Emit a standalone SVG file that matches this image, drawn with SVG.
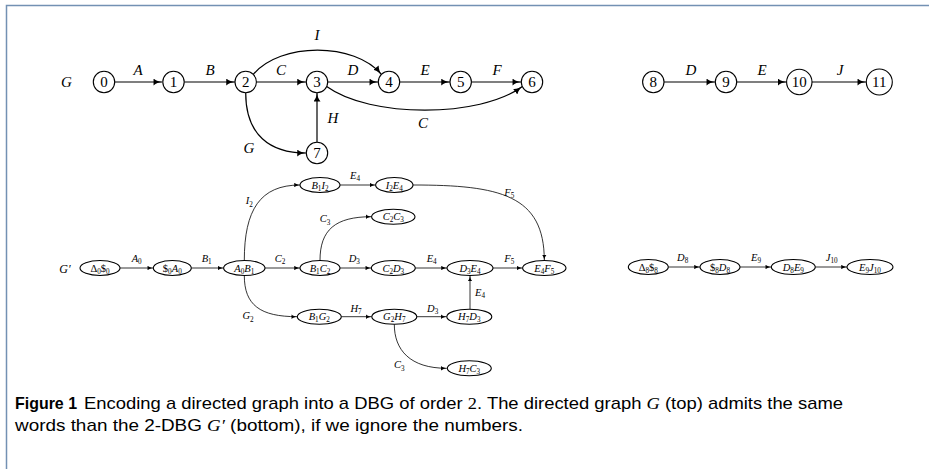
<svg xmlns="http://www.w3.org/2000/svg" width="929" height="469" viewBox="0 0 929 469">
<style>
.frame{stroke:#7391b3;stroke-width:1.5;fill:none}
.n{fill:#fff;stroke:#000;stroke-width:1.1}
.e{fill:none;stroke:#000;stroke-width:1.2}
.eb{fill:none;stroke:#000;stroke-width:0.8}
.big{font-family:"Liberation Serif",serif;font-size:15px;fill:#000}
.sm{font-family:"Liberation Serif",serif;font-size:10.5px;fill:#000}
.it{font-style:italic}
.sub{font-size:7.2px;font-style:normal}
.mid{text-anchor:middle}
.cap{font-family:"Liberation Sans",Arial,sans-serif;font-size:17px;fill:#000}
.m{font-family:"Liberation Serif",serif}
</style>
<defs>
<marker id="ah" viewBox="0 0 10 8" refX="10" refY="4" markerWidth="9" markerHeight="7" markerUnits="userSpaceOnUse" orient="auto">
<path d="M0,0 C3,2.5 6,3.5 10,4 C6,4.5 3,5.5 0,8 Z" fill="#000"/>
</marker>
<marker id="as" viewBox="0 0 10 8" refX="10" refY="4" markerWidth="6" markerHeight="4.6" markerUnits="userSpaceOnUse" orient="auto">
<path d="M0,0 C3,2.5 6,3.5 10,4 C6,4.5 3,5.5 0,8 Z" fill="#000"/>
</marker>
</defs>
<rect width="929" height="469" fill="#fff"/>
<path class="frame" d="M6.5,469 V5.5 H929"/>

<!-- Top graph G -->
<text class="big it mid" x="66.5" y="87">G</text>
<g id="connectors-top">
<path class="e" d="M114.7,82 H162.3" marker-end="url(#ah)"/>
<path class="e" d="M184.2,82 H235" marker-end="url(#ah)"/>
<path class="e" d="M256.4,82 H306" marker-end="url(#ah)"/>
<path class="e" d="M327.7,82 H378.3" marker-end="url(#ah)"/>
<path class="e" d="M399.7,82 H450" marker-end="url(#ah)"/>
<path class="e" d="M471.4,82 H521.3" marker-end="url(#ah)"/>
<path class="e" d="M317,142.3 V92.7" marker-end="url(#ah)"/>
<path class="e" d="M253.2,74.5 C280,42 355,42 381.5,74.5" marker-end="url(#ah)"/>
<path class="e" d="M326.7,86.5 C370,118 480,118 522.3,86.5" marker-end="url(#ah)"/>
<path class="e" d="M245.7,92.7 C245.7,135 270,153 306,153" marker-end="url(#ah)"/>
<path class="e" d="M664,82 H715.3" marker-end="url(#ah)"/>
<path class="e" d="M736.7,82 H786.6" marker-end="url(#ah)"/>
<path class="e" d="M812,82 H866.3" marker-end="url(#ah)"/>
<text class="big it mid" x="138" y="75">A</text>
<text class="big it mid" x="210" y="75">B</text>
<text class="big it mid" x="281" y="75">C</text>
<text class="big it mid" x="317" y="40">I</text>
<text class="big it mid" x="353" y="75">D</text>
<text class="big it mid" x="425" y="75">E</text>
<text class="big it mid" x="497" y="75">F</text>
<text class="big it mid" x="333" y="123">H</text>
<text class="big it mid" x="249" y="153">G</text>
<text class="big it mid" x="423" y="128">C</text>
<text class="big it mid" x="691" y="75">D</text>
<text class="big it mid" x="762" y="75">E</text>
<text class="big it mid" x="840" y="75">J</text>
</g>
<g id="n0"><circle class="n" cx="104" cy="82" r="10.7"/><text class="big mid" x="104" y="87">0</text></g>
<g id="n1"><circle class="n" cx="173.5" cy="82" r="10.7"/><text class="big mid" x="173.5" y="87">1</text></g>
<g id="n2"><circle class="n" cx="245.7" cy="82" r="10.7"/><text class="big mid" x="245.7" y="87">2</text></g>
<g id="n3"><circle class="n" cx="317" cy="82" r="10.7"/><text class="big mid" x="317" y="87">3</text></g>
<g id="n4"><circle class="n" cx="389" cy="82" r="10.7"/><text class="big mid" x="389" y="87">4</text></g>
<g id="n5"><circle class="n" cx="460.7" cy="82" r="10.7"/><text class="big mid" x="460.7" y="87">5</text></g>
<g id="n6"><circle class="n" cx="532" cy="82" r="10.7"/><text class="big mid" x="532" y="87">6</text></g>
<g id="n7"><circle class="n" cx="317" cy="153" r="10.7"/><text class="big mid" x="317" y="158">7</text></g>
<g id="n8"><circle class="n" cx="653.3" cy="82" r="10.7"/><text class="big mid" x="653.3" y="87">8</text></g>
<g id="n9"><circle class="n" cx="726" cy="82" r="10.7"/><text class="big mid" x="726" y="87">9</text></g>
<g id="n10"><circle class="n" cx="799.3" cy="82" r="12.7"/><text class="big mid" x="799.3" y="87">10</text></g>
<g id="n11"><circle class="n" cx="879.3" cy="82" r="13"/><text class="big mid" x="879.3" y="87">11</text></g>

<!-- Bottom graph G' -->
<text class="big it mid" x="65" y="273" style="font-size:12px">G′</text>
<g id="connectors-bottom">
<path class="eb" d="M120,268 H153.3" marker-end="url(#as)"/>
<path class="eb" d="M191.3,268 H223.6" marker-end="url(#as)"/>
<path class="eb" d="M265,268 H300" marker-end="url(#as)"/>
<path class="eb" d="M340,268 H371.3" marker-end="url(#as)"/>
<path class="eb" d="M415.3,268 H447" marker-end="url(#as)"/>
<path class="eb" d="M493,268 H522.6" marker-end="url(#as)"/>
<path class="eb" d="M340,185 H375.6" marker-end="url(#as)"/>
<path class="eb" d="M341.3,316.7 H371.8" marker-end="url(#as)"/>
<path class="eb" d="M416.8,316.7 H446.8" marker-end="url(#as)"/>
<path class="eb" d="M470,309.2 V275.5" marker-end="url(#as)"/>
<path class="eb" d="M244.3,260.5 C244.3,210 260,185 300,185" marker-end="url(#as)"/>
<path class="eb" d="M320,260.5 C320,230 335,216.7 371.7,216.7" marker-end="url(#as)"/>
<path class="eb" d="M244.3,275.5 C244.3,305 260,316.7 297.3,316.7" marker-end="url(#as)"/>
<path class="eb" d="M394.3,324.2 C394.3,350 410,368.3 446.8,368.3" marker-end="url(#as)"/>
<path class="eb" d="M413,185 C500,185 544.3,195 544.3,260.5" marker-end="url(#as)"/>
<path class="eb" d="M668.3,267 H700" marker-end="url(#as)"/>
<path class="eb" d="M740,267 H771.3" marker-end="url(#as)"/>
<path class="eb" d="M815.3,267 H847" marker-end="url(#as)"/>
<text class="sm it mid" x="136.7" y="261.5">A<tspan class="sub" dy="2.5">0</tspan></text>
<text class="sm it mid" x="206.7" y="261.5">B<tspan class="sub" dy="2.5">1</tspan></text>
<text class="sm it mid" x="280" y="261.5">C<tspan class="sub" dy="2.5">2</tspan></text>
<text class="sm it mid" x="354.3" y="261.5">D<tspan class="sub" dy="2.5">3</tspan></text>
<text class="sm it mid" x="431.7" y="261.5">E<tspan class="sub" dy="2.5">4</tspan></text>
<text class="sm it mid" x="509.3" y="261.5">F<tspan class="sub" dy="2.5">5</tspan></text>
<text class="sm it mid" x="355" y="178.5">E<tspan class="sub" dy="2.5">4</tspan></text>
<text class="sm it mid" x="509.3" y="195.5">F<tspan class="sub" dy="2.5">5</tspan></text>
<text class="sm it mid" x="249.3" y="204">I<tspan class="sub" dy="2.5">2</tspan></text>
<text class="sm it mid" x="325" y="222">C<tspan class="sub" dy="2.5">3</tspan></text>
<text class="sm it mid" x="248" y="319">G<tspan class="sub" dy="2.5">2</tspan></text>
<text class="sm it mid" x="356" y="311.5">H<tspan class="sub" dy="2.5">7</tspan></text>
<text class="sm it mid" x="432.7" y="311.5">D<tspan class="sub" dy="2.5">3</tspan></text>
<text class="sm it mid" x="480" y="295.5">E<tspan class="sub" dy="2.5">4</tspan></text>
<text class="sm it mid" x="399.3" y="368">C<tspan class="sub" dy="2.5">3</tspan></text>
<text class="sm it mid" x="682.7" y="260.5">D<tspan class="sub" dy="2.5">8</tspan></text>
<text class="sm it mid" x="756" y="260.5">E<tspan class="sub" dy="2.5">9</tspan></text>
<text class="sm it mid" x="831.7" y="260.5">J<tspan class="sub" dy="2.5">10</tspan></text>
</g>
<g id="b-d0s0"><ellipse class="n" cx="100" cy="268" rx="20" ry="7.5"/><text class="sm mid" x="100" y="271.5">Δ<tspan class="sub" dy="2">0</tspan><tspan dy="-2">$</tspan><tspan class="sub" dy="2">0</tspan></text></g>
<g id="b-s0a0"><ellipse class="n" cx="172.3" cy="268" rx="19" ry="7.5"/><text class="sm mid" x="172.3" y="271.5">$<tspan class="sub" dy="2">0</tspan><tspan class="it" dy="-2">A</tspan><tspan class="sub" dy="2">0</tspan></text></g>
<g id="b-a0b1"><ellipse class="n" cx="244.3" cy="268" rx="20.7" ry="7.5"/><text class="sm it mid" x="244.3" y="271.5">A<tspan class="sub" dy="2">0</tspan><tspan dy="-2">B</tspan><tspan class="sub" dy="2">1</tspan></text></g>
<g id="b-b1c2"><ellipse class="n" cx="320" cy="268" rx="20" ry="7.5"/><text class="sm it mid" x="320" y="271.5">B<tspan class="sub" dy="2">1</tspan><tspan dy="-2">C</tspan><tspan class="sub" dy="2">2</tspan></text></g>
<g id="b-c2d3"><ellipse class="n" cx="393.3" cy="268" rx="22" ry="7.5"/><text class="sm it mid" x="393.3" y="271.5">C<tspan class="sub" dy="2">2</tspan><tspan dy="-2">D</tspan><tspan class="sub" dy="2">3</tspan></text></g>
<g id="b-d3e4"><ellipse class="n" cx="470" cy="268" rx="23" ry="7.5"/><text class="sm it mid" x="470" y="271.5">D<tspan class="sub" dy="2">3</tspan><tspan dy="-2">E</tspan><tspan class="sub" dy="2">4</tspan></text></g>
<g id="b-e4f5"><ellipse class="n" cx="544.3" cy="268" rx="21.7" ry="7.5"/><text class="sm it mid" x="544.3" y="271.5">E<tspan class="sub" dy="2">4</tspan><tspan dy="-2">F</tspan><tspan class="sub" dy="2">5</tspan></text></g>
<g id="b-b1i2"><ellipse class="n" cx="320" cy="185" rx="20" ry="7.5"/><text class="sm it mid" x="320" y="188.5">B<tspan class="sub" dy="2">1</tspan><tspan dy="-2">I</tspan><tspan class="sub" dy="2">2</tspan></text></g>
<g id="b-i2e4"><ellipse class="n" cx="394.3" cy="185" rx="18.7" ry="7.5"/><text class="sm it mid" x="394.3" y="188.5">I<tspan class="sub" dy="2">2</tspan><tspan dy="-2">E</tspan><tspan class="sub" dy="2">4</tspan></text></g>
<g id="b-c2c3"><ellipse class="n" cx="393.3" cy="216.7" rx="21.7" ry="7.5"/><text class="sm it mid" x="393.3" y="220.2">C<tspan class="sub" dy="2">2</tspan><tspan dy="-2">C</tspan><tspan class="sub" dy="2">3</tspan></text></g>
<g id="b-b1g2"><ellipse class="n" cx="319.3" cy="316.7" rx="22" ry="7.5"/><text class="sm it mid" x="319.3" y="320.2">B<tspan class="sub" dy="2">1</tspan><tspan dy="-2">G</tspan><tspan class="sub" dy="2">2</tspan></text></g>
<g id="b-g2h7"><ellipse class="n" cx="394.3" cy="316.7" rx="22.5" ry="7.5"/><text class="sm it mid" x="394.3" y="320.2">G<tspan class="sub" dy="2">2</tspan><tspan dy="-2">H</tspan><tspan class="sub" dy="2">7</tspan></text></g>
<g id="b-h7d3"><ellipse class="n" cx="469.3" cy="316.7" rx="22.5" ry="7.5"/><text class="sm it mid" x="469.3" y="320.2">H<tspan class="sub" dy="2">7</tspan><tspan dy="-2">D</tspan><tspan class="sub" dy="2">3</tspan></text></g>
<g id="b-h7c3"><ellipse class="n" cx="469.3" cy="368.3" rx="22" ry="7.5"/><text class="sm it mid" x="469.3" y="371.8">H<tspan class="sub" dy="2">7</tspan><tspan dy="-2">C</tspan><tspan class="sub" dy="2">3</tspan></text></g>
<g id="b-d8s8"><ellipse class="n" cx="648.3" cy="267" rx="20" ry="7.5"/><text class="sm mid" x="648.3" y="270.5">Δ<tspan class="sub" dy="2">8</tspan><tspan dy="-2">$</tspan><tspan class="sub" dy="2">8</tspan></text></g>
<g id="b-s8d8"><ellipse class="n" cx="720" cy="267" rx="20" ry="7.5"/><text class="sm mid" x="720" y="270.5">$<tspan class="sub" dy="2">8</tspan><tspan class="it" dy="-2">D</tspan><tspan class="sub" dy="2">8</tspan></text></g>
<g id="b-d8e9"><ellipse class="n" cx="793.3" cy="267" rx="22" ry="7.5"/><text class="sm it mid" x="793.3" y="270.5">D<tspan class="sub" dy="2">8</tspan><tspan dy="-2">E</tspan><tspan class="sub" dy="2">9</tspan></text></g>
<g id="b-e9j10"><ellipse class="n" cx="870" cy="267" rx="23" ry="7.5"/><text class="sm it mid" x="870" y="270.5">E<tspan class="sub" dy="2">9</tspan><tspan dy="-2">J</tspan><tspan class="sub" dy="2">10</tspan></text></g>

<!-- Caption -->
<text class="cap" x="15" y="409" style="font-weight:bold" textLength="62" lengthAdjust="spacingAndGlyphs">Figure 1</text>
<text class="cap" x="84" y="409" textLength="759" lengthAdjust="spacingAndGlyphs">Encoding a directed graph into a DBG of order <tspan class="m">2</tspan>. The directed graph <tspan class="m it">G</tspan> (top) admits the same</text>
<text class="cap" x="15" y="431" textLength="508" lengthAdjust="spacingAndGlyphs">words than the 2-DBG <tspan class="m it">G′</tspan> (bottom), if we ignore the numbers.</text>
</svg>
